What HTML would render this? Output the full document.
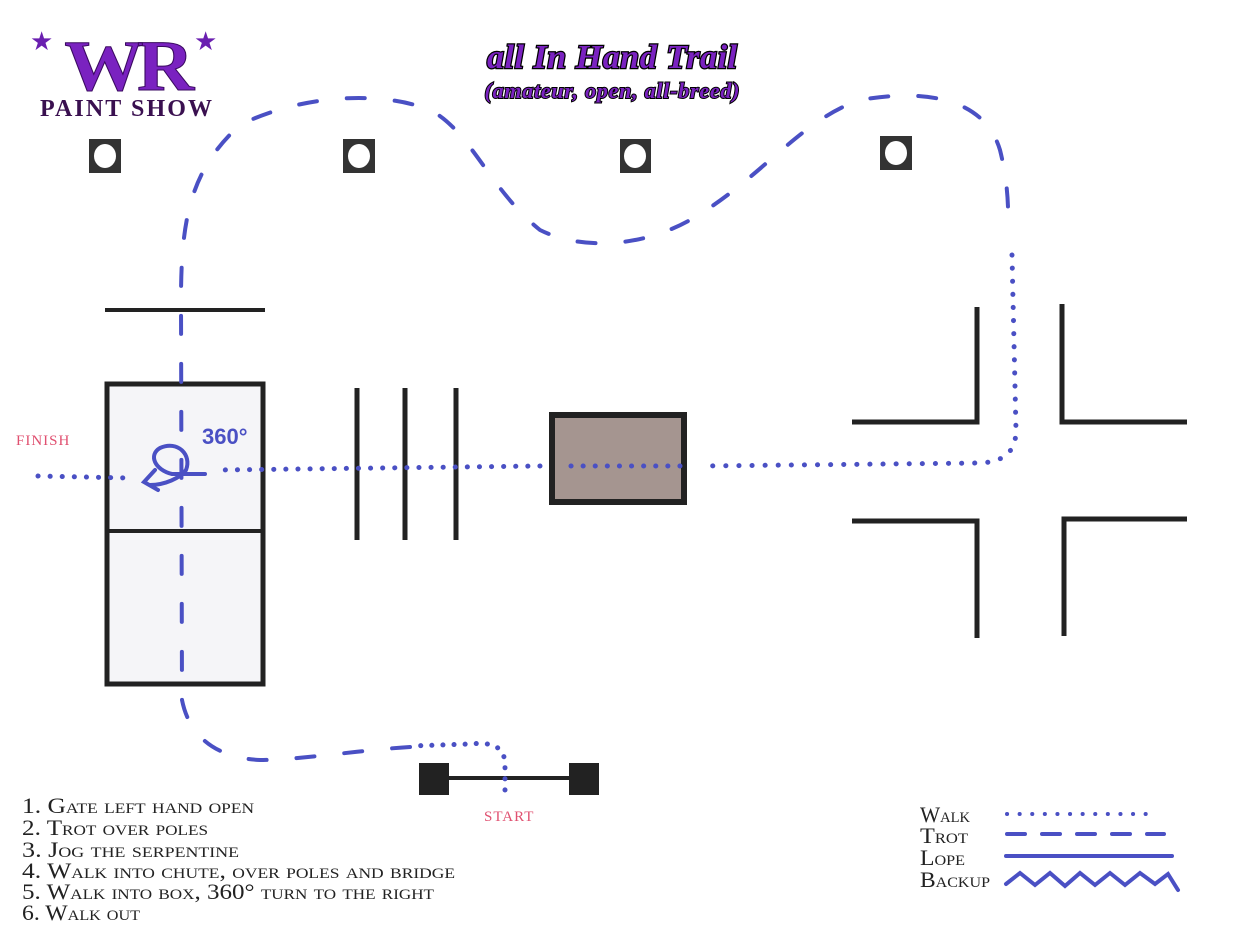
<!DOCTYPE html>
<html><head><style>
body{margin:0;background:#fff;}
svg{display:block}
</style></head><body>
<svg width="1234" height="942" viewBox="0 0 1234 942" xmlns="http://www.w3.org/2000/svg">
<rect width="1234" height="942" fill="#fff"/>
<!-- logo -->
<text x="30" y="50" font-size="26" fill="#6a1fb0" font-family="DejaVu Sans">★</text>
<text x="194" y="50" font-size="26" fill="#6a1fb0" font-family="DejaVu Sans">★</text>
<text x="126" y="90" text-anchor="middle" font-family="Liberation Serif" font-weight="bold" font-size="72" fill="#7a22c0" stroke="#3a0a60" stroke-width="1" letter-spacing="-6" transform="translate(126 90) scale(1.1 1) translate(-126 -90)">WR</text>
<text x="126" y="116" text-anchor="middle" font-family="Liberation Serif" font-weight="bold" font-size="24" fill="#3a1050" textLength="172">PAINT SHOW</text>
<!-- title -->
<text x="612" y="68" text-anchor="middle" font-family="Liberation Serif" font-style="italic" font-weight="bold" font-size="34" fill="#7a22c0" stroke="#000" stroke-width="2.5" paint-order="stroke" textLength="250">all In Hand Trail</text>
<text x="612" y="98" text-anchor="middle" font-family="Liberation Serif" font-style="italic" font-weight="bold" font-size="22" fill="#7a22c0" stroke="#000" stroke-width="2" paint-order="stroke" textLength="255">(amateur, open, all-breed)</text>
<!-- markers -->
<g fill="#333">
<rect x="89" y="139" width="32" height="34"/><rect x="343" y="139" width="32" height="34"/><rect x="620" y="139" width="31" height="34"/><rect x="880" y="136" width="32" height="34"/>
</g>
<g fill="#fff">
<ellipse cx="105" cy="156" rx="11" ry="12"/><ellipse cx="359" cy="156" rx="11" ry="12"/><ellipse cx="635" cy="156" rx="11" ry="12"/><ellipse cx="896" cy="153" rx="11" ry="12"/>
</g>
<!-- gate/box left -->
<line x1="105" y1="310" x2="265" y2="310" stroke="#222" stroke-width="4"/>
<rect x="107" y="384" width="156" height="300" fill="#f5f5f8" stroke="#222" stroke-width="5"/>
<line x1="107" y1="531" x2="263" y2="531" stroke="#222" stroke-width="4"/>
<!-- poles -->
<g stroke="#222" stroke-width="5">
<line x1="357" y1="388" x2="357" y2="540"/><line x1="405" y1="388" x2="405" y2="540"/><line x1="456" y1="388" x2="456" y2="540"/>
</g>
<!-- bridge -->
<rect x="552" y="415" width="132" height="87" fill="#a59590" stroke="#222" stroke-width="6"/>
<!-- corner chute -->
<g stroke="#222" stroke-width="5" fill="none">
<polyline points="977,307 977,422 852,422"/><polyline points="1062,304 1062,422 1187,422"/>
<polyline points="852,521 977,521 977,638"/><polyline points="1187,519 1064,519 1064,636"/>
</g>
<!-- start -->
<line x1="440" y1="778" x2="575" y2="778" stroke="#222" stroke-width="4"/>
<rect x="419" y="763" width="30" height="32" fill="#222"/><rect x="569" y="763" width="30" height="32" fill="#222"/>
<!-- trot path -->
<g fill="none" stroke="#4a50c4" stroke-width="4" stroke-linecap="round">
<path d="M410,747 C360,750 300,760 260,760 C220,758 190,740 182,700 L181,300 C181,220 190,170 240,125 C300,95 380,90 430,110 C470,130 490,190 540,230 C580,250 640,248 690,220 C760,180 800,120 860,100 C930,88 985,100 1000,150 C1010,190 1008,220 1008,232" stroke-dasharray="18 30"/>
</g>
<!-- walk dots -->
<g fill="none" stroke="#4a50c4" stroke-width="5" stroke-linecap="round">
<path d="M505,790 L505,765 C505,745 490,742 470,744 L410,746" stroke-dasharray="0.1 11"/>
<path d="M1012,255 L1016,430 C1016,455 1000,462 980,463 L700,466" stroke-dasharray="0.1 13"/>
<path d="M680,466 L560,466" stroke-dasharray="0.1 12"/>
<path d="M540,466 L220,470" stroke-dasharray="0.1 12"/>
<path d="M38,476 L130,478" stroke-dasharray="0.1 12"/>
</g>
<!-- 360 loop -->
<g fill="none" stroke="#4a50c4" stroke-width="4" stroke-linecap="round">
<path d="M205,474 L172,474 C155,470 148,455 160,448 C178,440 192,455 186,470 C180,478 165,485 150,485"/>
<path d="M155,470 L144,482 L158,490"/>
</g>
<text x="202" y="444" font-family="Liberation Sans" font-weight="bold" font-size="22" fill="#4a50c4">360°</text>
<!-- labels -->
<text x="16" y="445" font-family="Liberation Serif" font-size="15" fill="#e05070" letter-spacing="1">FINISH</text>
<text x="484" y="821" font-family="Liberation Serif" font-size="15" fill="#e05070" letter-spacing="1">START</text>
<g font-family="Liberation Serif" font-size="22" fill="#222" font-variant="small-caps" lengthAdjust="spacingAndGlyphs">
<text x="22" y="813" textLength="232" lengthAdjust="spacingAndGlyphs">1. Gate left hand open</text>
<text x="22" y="835" textLength="186" lengthAdjust="spacingAndGlyphs">2. Trot over poles</text>
<text x="22" y="857" textLength="217" lengthAdjust="spacingAndGlyphs">3. Jog the serpentine</text>
<text x="22" y="878" textLength="433" lengthAdjust="spacingAndGlyphs">4. Walk into chute, over poles and bridge</text>
<text x="22" y="899" textLength="412" lengthAdjust="spacingAndGlyphs">5. Walk into box, 360° turn to the right</text>
<text x="22" y="920" textLength="118" lengthAdjust="spacingAndGlyphs">6. Walk out</text>
<text x="920" y="822" textLength="50" lengthAdjust="spacingAndGlyphs">Walk</text>
<text x="920" y="843" textLength="48" lengthAdjust="spacingAndGlyphs">Trot</text>
<text x="920" y="865" textLength="45" lengthAdjust="spacingAndGlyphs">Lope</text>
<text x="920" y="887" textLength="70" lengthAdjust="spacingAndGlyphs">Backup</text>
</g>
<!-- legend -->
<g fill="none" stroke="#4a50c4" stroke-linecap="round">
<line x1="1007" y1="814" x2="1158" y2="814" stroke-width="4" stroke-dasharray="0.1 12.5"/>
<line x1="1007" y1="834" x2="1164" y2="834" stroke-width="4" stroke-dasharray="18 17"/>
<line x1="1006" y1="856" x2="1172" y2="856" stroke-width="4"/>
<polyline points="1006,884 1020,873 1035,885 1050,873 1065,886 1080,873 1095,885 1110,873 1125,885 1140,873 1155,884 1168,874 1178,890" stroke-width="4"/>
</g>
</svg>
</body></html>
